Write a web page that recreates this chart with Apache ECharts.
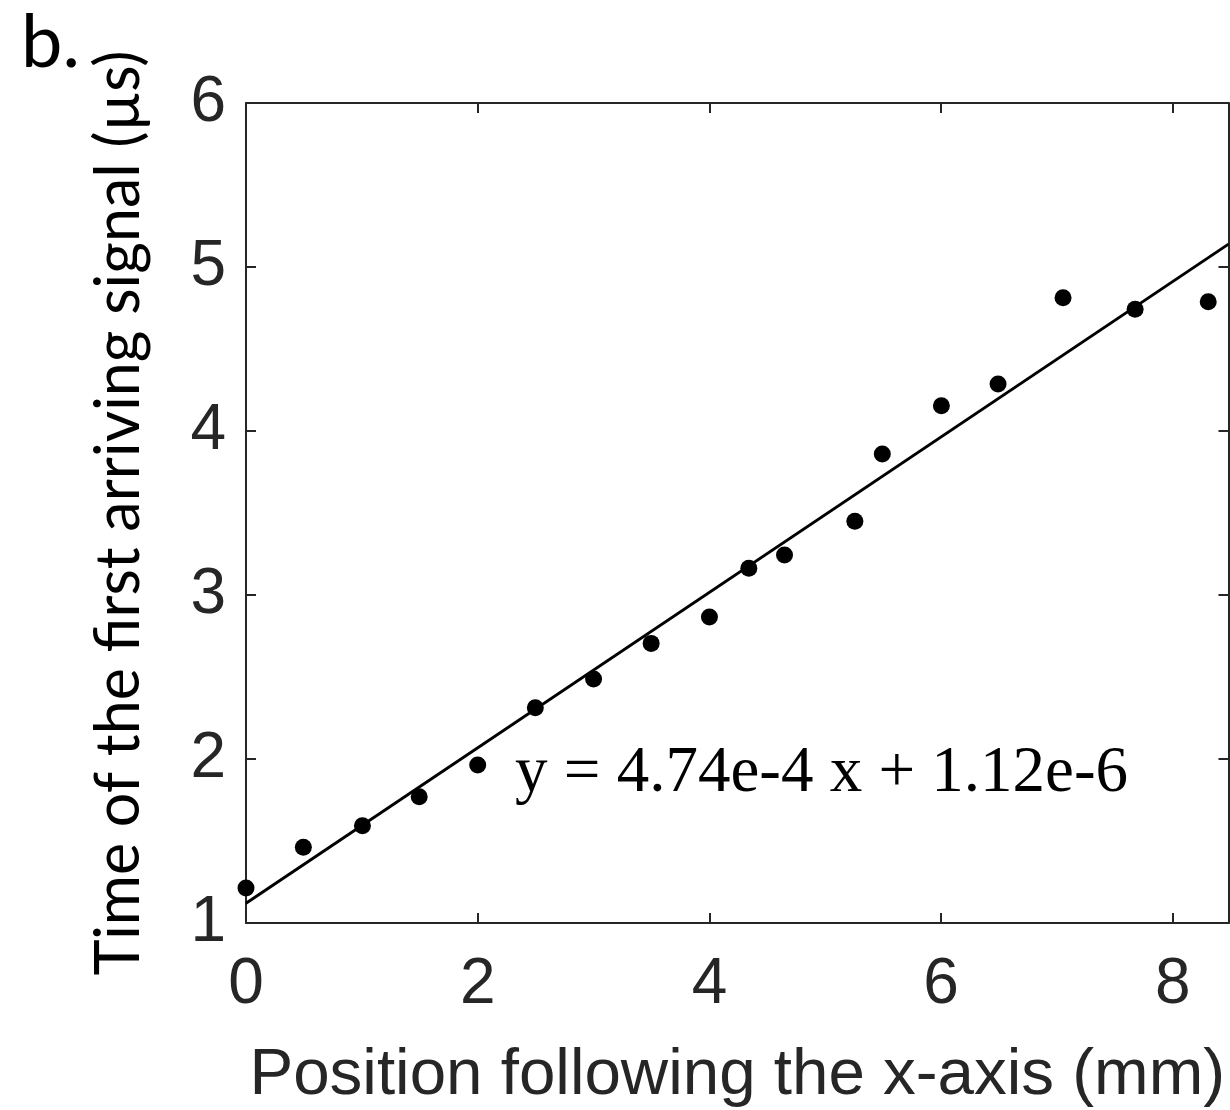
<!DOCTYPE html>
<html>
<head>
<meta charset="utf-8">
<script src="https://cdn.jsdelivr.net/npm/echarts@6/dist/echarts.min.js"></script>
<style>
html,body{margin:0;padding:0;background:#fff;}
#chart{width:1230px;height:1110px;}
</style>
</head>
<body>
<div id="chart"></div>
<script>
// Measured points: position (mm) vs time of first arriving signal (µs)
const positions = [0, 0.495, 1.005, 1.495, 2.0, 2.497, 3.0, 3.497, 4.0, 4.34, 4.648, 5.255, 5.492, 6.002, 6.491, 7.052, 7.674, 8.305];
const times = [1.213, 1.462, 1.593, 1.770, 1.963, 2.313, 2.488, 2.705, 2.866, 3.163, 3.244, 3.449, 3.860, 4.154, 4.287, 4.813, 4.742, 4.788];
// Linear fit y = 0.474 x + 1.12 (µs, mm), drawn across the axis range
const fitX = [0, 8.48];
const fitY = [1.12, 5.1395];
const xTicks = [0, 2, 4, 6, 8];
const yTicks = [1, 2, 3, 4, 5, 6];
const equationText = 'y = 4.74e-4 x + 1.12e-6';
const panelLabel = 'b.';

const axisColor = '#262626';
const chart = echarts.init(document.getElementById('chart'));

const baseAxis = {
  axisLine: {show: true, onZero: false, lineStyle: {color: axisColor, width: 2}},
  axisTick: {show: true, inside: true, length: 10, lineStyle: {color: axisColor, width: 2}},
  splitLine: {show: false}
};

chart.setOption({
  animation: false,
  backgroundColor: '#fff',
  grid: {left: 246, right: 1.5, top: 103, bottom: 187, containLabel: false, outerBoundsMode: 'none'},
  xAxis: [
    Object.assign({}, baseAxis, {
      type: 'value', min: 0, max: 8.48, interval: 2, position: 'bottom',
      axisLabel: {show: true, margin: 30, color: axisColor, fontFamily: 'Liberation Sans', fontSize: 64,
        formatter: v => xTicks.includes(v) ? String(v) : '', showMaxLabel: false},
      name: 'Position following the x-axis (mm)', nameLocation: 'middle', nameGap: 120,
      nameTextStyle: {color: axisColor, fontFamily: 'Liberation Sans', fontSize: 65.5}
    }),
    Object.assign({}, baseAxis, {
      type: 'value', min: 0, max: 8.48, interval: 2, position: 'top',
      axisLabel: {show: false}
    })
  ],
  yAxis: [
    Object.assign({}, baseAxis, {
      type: 'value', min: 1, max: 6, interval: 1, position: 'left',
      axisLabel: {show: true, margin: 20, color: axisColor, fontFamily: 'Liberation Sans', fontSize: 64,
        formatter: v => yTicks.includes(v) ? String(v) : ''},
      name: 'Time of the first arriving signal (\u00b5s)', nameLocation: 'middle', nameGap: 96,
      nameTextStyle: {color: '#000', fontFamily: 'Lato', fontSize: 61}
    }),
    Object.assign({}, baseAxis, {
      type: 'value', min: 1, max: 6, interval: 1, position: 'right',
      axisLabel: {show: false}
    })
  ],
  series: [
    {
      type: 'line', data: fitX.map((x, i) => [x, fitY[i]]),
      showSymbol: false, symbol: 'none', lineStyle: {color: '#000', width: 3}, z: 2, clip: true
    },
    {
      type: 'scatter', data: positions.map((x, i) => [x, times[i]]),
      symbol: 'circle', symbolSize: 17, itemStyle: {color: '#000', opacity: 1}, z: 3, clip: false
    }
  ],
  graphic: [
    {type: 'text', left: 21, top: 6, style: {text: panelLabel, font: '74px Lato', fill: '#000'}},
    {type: 'text', left: 515, top: 741, style: {text: equationText, font: '65px "Liberation Serif"', fill: '#000'}}
  ]
});
</script>
</body>
</html>
